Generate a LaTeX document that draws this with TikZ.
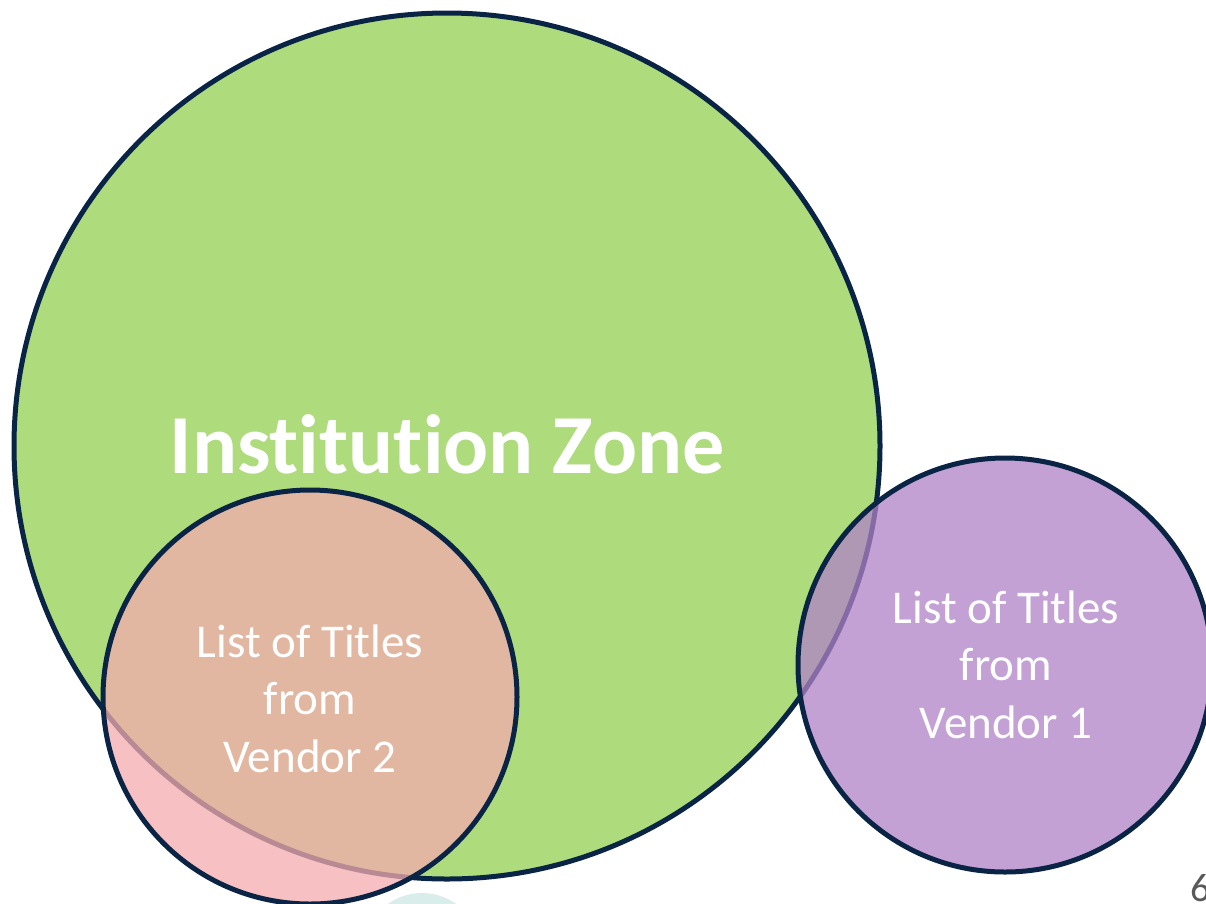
\documentclass[tikz,border=0pt]{standalone}
\usepackage{fontspec}
\setmainfont[Ligatures={NoCommon}]{Carlito}
\begin{document}
\begin{tikzpicture}[x=1pt,y=-1pt,line join=round,line cap=round]
		%\draw[gray!50] (0,0) grid[step=100] (1206,903);
		\definecolor{zonegreen}{RGB}{174,219,124}
		\definecolor{vendorpink}{RGB}{244,172,175}
		\definecolor{vendorpurple}{RGB}{176,130,199}
		\definecolor{ringnavy}{RGB}{10,36,70}
		\definecolor{pagecyan}{RGB}{217,238,234}
		\tikzset{ring/.style={draw=ringnavy,line width=5pt},
			seen/.style={fill opacity=.75,draw opacity=1},
			label/.style={text=white,align=center,font=\fontsize{47}{57.5}\selectfont}}
		\useasboundingbox (0,0) rectangle (1206,903);
		\clip (0,0) rectangle (1206,903);
		
		\fill[pagecyan] (422,952) circle (59pt);
		\fill[ring,fill=zonegreen] (447,446) circle (433pt);
		\fill[ring,seen,fill=vendorpink] (310,697) circle (207pt);
		\fill[ring,seen,fill=vendorpurple] (1005,665) circle (207pt);
		
		% base = last line
		\node[text=white,font=\fontsize{84}{90}\bfseries\selectfont,anchor=base] (zone) at (447,473) {Institution Zone};
		\node[label,anchor=base] (vendorB) at (310,772) {List of Titles\\from\\Vendor 2};
		\node[label,anchor=base] (vendorA) at (1006,738) {List of Titles\\from\\Vendor 1};
		\node[text=black!65,font=\fontsize{40}{44}\selectfont,anchor=north west,inner sep=0pt] (page) at (1190,874) {6};
\end{tikzpicture}
\end{document}
